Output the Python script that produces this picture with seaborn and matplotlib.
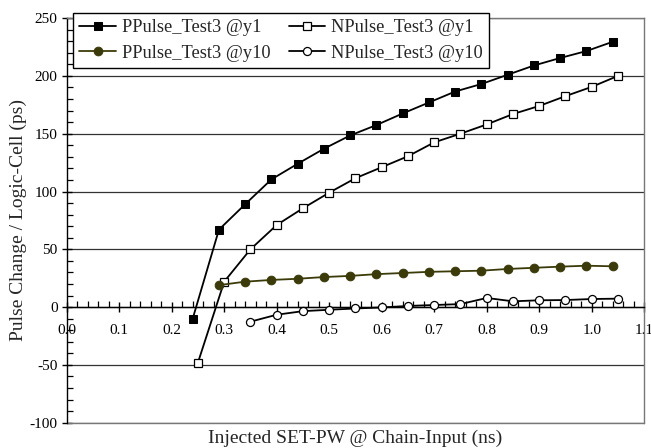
import matplotlib
matplotlib.use("Agg")
import matplotlib.pyplot as plt
from matplotlib.ticker import MultipleLocator, FormatStrFormatter
import seaborn as sns
import pandas as pd

# ---- data ----
x_p = [0.24, 0.29, 0.34, 0.39, 0.44, 0.49, 0.54, 0.59, 0.64, 0.69, 0.74, 0.79, 0.84, 0.89, 0.94, 0.99, 1.04]
ppulse_y1 = [-10, 67, 89, 110.5, 124, 137, 148.5, 157.5, 167.5, 177, 186.5, 193, 201, 209, 215.5, 221.5, 229.5]
x_n = [0.25, 0.30, 0.35, 0.40, 0.45, 0.50, 0.55, 0.60, 0.65, 0.70, 0.75, 0.80, 0.85, 0.90, 0.95, 1.00, 1.05]
npulse_y1 = [-48, 22, 50, 71, 85.5, 99, 111.5, 121, 130.5, 142.5, 150, 158, 167, 174, 182.5, 190.5, 200]
x_p10 = [0.29, 0.34, 0.39, 0.44, 0.49, 0.54, 0.59, 0.64, 0.69, 0.74, 0.79, 0.84, 0.89, 0.94, 0.99, 1.04]
ppulse_y10 = [19, 22, 23.5, 24.5, 26, 27, 28.5, 29.5, 30.5, 31, 31.5, 33, 34, 35, 35.8, 35.3]
x_n10 = [0.35, 0.40, 0.45, 0.50, 0.55, 0.60, 0.65, 0.70, 0.75, 0.80, 0.85, 0.90, 0.95, 1.00, 1.05]
npulse_y10 = [-12.6, -6.6, -3.5, -2.3, -1.2, -0.3, 1, 1.8, 2.6, 7.9, 5, 5.9, 6.1, 7, 7.3]

labels = ["PPulse_Test3 @y1", "NPulse_Test3 @y1", "PPulse_Test3 @y10", "NPulse_Test3 @y10"]
x_label = "Injected SET-PW @ Chain-Input (ns)"
y_label = "Pulse Change / Logic-Cell (ps)"
x_lim = (0.0, 1.1)
y_lim = (-100, 250)

sns.set_theme(style="white")
plt.rcParams["font.family"] = ["Liberation Serif", "DejaVu Serif"]

fig = plt.figure(figsize=(6.51, 4.48), dpi=100)
ax = fig.add_axes([66.7 / 651, 1 - 422.7 / 448, 577.5 / 651, (422.7 - 18.1) / 448])

olive = "#3b3b0a"
lw = 1.3
series = [
    (x_p, ppulse_y1, dict(color="black", marker="s", markersize=6.2, markerfacecolor="black", markeredgecolor="black")),
    (x_n, npulse_y1, dict(color="black", marker="s", markersize=6.0, markerfacecolor="white", markeredgecolor="black", markeredgewidth=0.9)),
    (x_p10, ppulse_y10, dict(color=olive, marker="o", markersize=6.2, markerfacecolor=olive, markeredgecolor=olive)),
    (x_n10, npulse_y10, dict(color="black", marker="o", markersize=5.8, markerfacecolor="white", markeredgecolor="black", markeredgewidth=0.9)),
]
for (xs, ys, kw), lab in zip(series, labels):
    df = pd.DataFrame({"x": xs, "y": ys})
    sns.lineplot(data=df, x="x", y="y", ax=ax, label=lab, linewidth=lw, zorder=3, **kw)

ax.set_xlim(*x_lim)
ax.set_ylim(*y_lim)

# axes styling
ax.spines["bottom"].set_position(("data", 0))
ax.spines["bottom"].set_color("black")
ax.spines["bottom"].set_linewidth(1.0)
ax.spines["left"].set_color("black")
ax.spines["left"].set_linewidth(1.0)
for s in ("top", "right"):
    ax.spines[s].set_color("#777777")
    ax.spines[s].set_linewidth(1.0)
ax.axhline(y_lim[0], color="#777777", linewidth=1.0, clip_on=False, zorder=1)

ax.xaxis.set_major_locator(MultipleLocator(0.1))
ax.xaxis.set_minor_locator(MultipleLocator(0.02))
ax.xaxis.set_major_formatter(FormatStrFormatter("%.1f"))
ax.yaxis.set_major_locator(MultipleLocator(50))
ax.yaxis.set_minor_locator(MultipleLocator(10))
ax.yaxis.set_major_formatter(FormatStrFormatter("%d"))

ax.tick_params(axis="both", which="major", direction="inout", length=7, width=1.0,
               colors="black", labelsize=11, bottom=True, left=True)
ax.tick_params(axis="x", which="major", pad=9)
ax.tick_params(axis="y", which="major", pad=3)
ax.tick_params(axis="both", which="minor", direction="in", length=4, width=0.9,
               colors="black", bottom=True, left=True)

ax.grid(True, axis="y", which="major", color="#333333", linewidth=0.9)
ax.grid(False, axis="x")
ax.set_axisbelow(True)

ax.set_xlabel(x_label, fontsize=14)
ax.xaxis.label.set_va("center")
ax.xaxis.set_label_coords(0.5, (422.7 - 438) / 404.6)
ax.set_ylabel(y_label, fontsize=14)
ax.yaxis.label.set_va("center")
ax.yaxis.set_label_coords((18 - 66.7) / 577.5, 0.5)

handles, labs = ax.get_legend_handles_labels()
order = [0, 2, 1, 3]
leg = ax.legend([handles[i] for i in order], [labs[i] for i in order],
                ncol=2, loc="upper left", bbox_to_anchor=(73 / 651, 1 - 13 / 448),
                bbox_transform=fig.transFigure, borderaxespad=0, frameon=True,
                fancybox=False, edgecolor="black", framealpha=1, fontsize=13.2,
                handlelength=2.0, handletextpad=0.3, columnspacing=1.0,
                labelspacing=0.45, borderpad=0.35)
leg.get_frame().set_linewidth(1.0)

fig.savefig("out.png", dpi=100)
